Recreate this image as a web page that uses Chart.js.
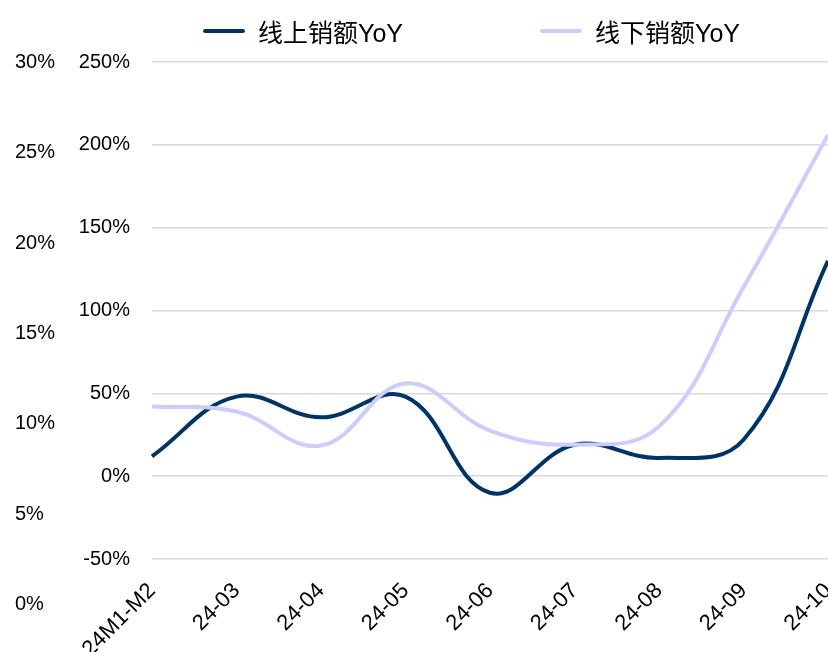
<!DOCTYPE html>
<html>
<head>
<meta charset="utf-8">
<script src="https://cdn.jsdelivr.net/npm/chart.js@4.4.1/dist/chart.umd.min.js"></script>
<style>
  body { margin: 0; background: #fff; }
  #wrap { position: relative; width: 828px; height: 652px; }
  .legend-item {
    position: absolute; top: 16px; height: 30px;
    display: flex; align-items: center;
    font: 25px "Liberation Sans", "Noto Sans CJK SC", sans-serif; color: #000;
    white-space: nowrap;
  }
  .legend-item .swatch { width: 42px; height: 4px; margin-right: 13px; border-radius: 2px; }
</style>
</head>
<body>
<div id="wrap">
  <canvas id="chart" width="828" height="652"></canvas>
  <div id="legend"></div>
</div>
<script>
const categories = ['24M1-M2', '24-03', '24-04', '24-05', '24-06', '24-07', '24-08', '24-09', '24-10'];
const onlineYoY = [12, 48, 35.5, 48, -10, 19, 11, 22, 130];
const offlineYoY = [42, 39, 18.5, 56, 27.5, 19, 30, 114, 206];
const seriesNames = ['线上销额YoY', '线下销额YoY'];
const seriesColors = ['#003366', '#ccccff'];
const outerTicks = [0, 5, 10, 15, 20, 25, 30];

const tickFont = {family: '"Liberation Sans", "Noto Sans CJK SC", sans-serif', size: 20};
const xFont = {family: '"Liberation Sans", "Noto Sans CJK SC", sans-serif', size: 22};
const pct = v => v + '%';

const chart = new Chart(document.getElementById('chart'), {
    type: 'line',
    data: {
        labels: categories,
        datasets: [{
            label: seriesNames[0],
            data: onlineYoY,
            borderColor: seriesColors[0],
            backgroundColor: seriesColors[0],
            borderWidth: 4,
            pointRadius: 0,
            tension: 0.4,
            order: 1
        }, {
            label: seriesNames[1],
            data: offlineYoY,
            borderColor: seriesColors[1],
            backgroundColor: seriesColors[1],
            borderWidth: 4,
            pointRadius: 0,
            tension: 0.4,
            order: 0
        }]
    },
    options: {
        responsive: false,
        animation: false,
        layout: {padding: {left: 15, top: 62, right: 0, bottom: 0}},
        plugins: {
            legend: {display: false},
            tooltip: {enabled: false}
        },
        scales: {
            x: {
                grid: {display: false},
                border: {display: false},
                ticks: {
                    font: xFont, color: '#000',
                    minRotation: 45, maxRotation: 45,
                    autoSkip: false, padding: 11
                },
                afterFit: s => {
                    s.height = 93;
                    s.paddingRight = 0;
                }
            },
            y: {
                position: 'left',
                weight: 0,
                min: -50,
                max: 250,
                grid: {color: '#d9d9d9', lineWidth: 1.5, drawTicks: false},
                border: {display: false},
                ticks: {stepSize: 50, padding: 22, font: tickFont, color: '#000', callback: pct},
                afterFit: s => { s.width = 74; }
            },
            y2: {
                position: 'left',
                weight: 1,
                min: 2.54,
                max: 30,
                grid: {display: false, drawTicks: false},
                border: {display: false},
                ticks: {crossAlign: 'far', autoSkip: false, font: tickFont, color: '#000', callback: pct},
                afterBuildTicks: s => { s.ticks = outerTicks.map(v => ({value: v})); },
                afterFit: s => { s.width = 63; }
            }
        }
    }
});

// html legend
const legendLeft = [203, 540];
const legend = document.getElementById('legend');
chart.data.datasets.forEach((ds, i) => {
    const item = document.createElement('div');
    item.className = 'legend-item';
    item.style.left = legendLeft[i] + 'px';
    item.innerHTML = `<span class="swatch" style="background:${ds.borderColor}"></span><span>${ds.label}</span>`;
    legend.appendChild(item);
});
</script>
</body>
</html>
